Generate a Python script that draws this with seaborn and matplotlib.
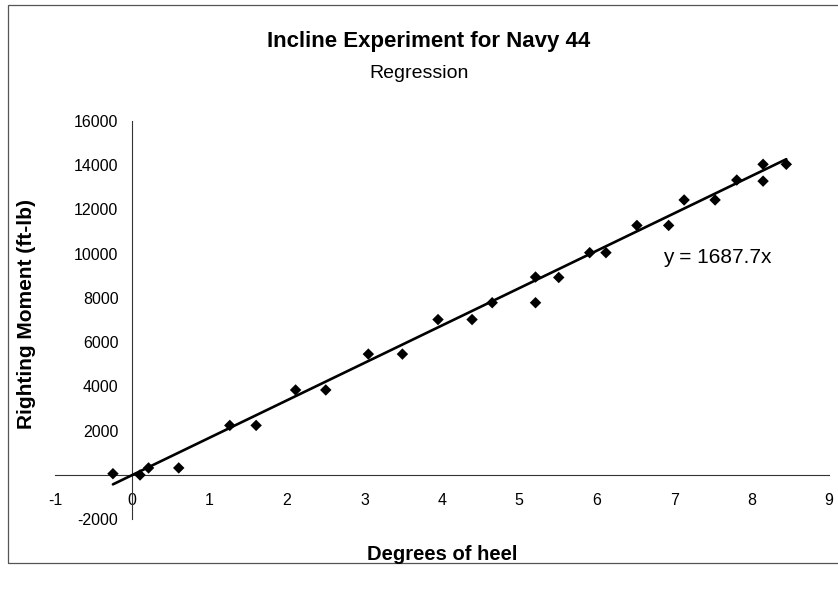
import numpy as np
import pandas as pd
import seaborn as sns
import matplotlib.pyplot as plt
from matplotlib.patches import Rectangle

sns.set_style("white")
plt.rcParams['font.family'] = ['Liberation Sans', 'DejaVu Sans']
plt.rcParams['axes.unicode_minus'] = False
plt.rcParams['text.color'] = 'black'
plt.rcParams['xtick.color'] = 'black'
plt.rcParams['ytick.color'] = 'black'

# 데이터
heel_deg = [-0.25, 0.10, 0.21, 0.60, 1.26, 1.60, 2.11, 2.50, 3.05, 3.49,
            3.95, 4.39, 4.65, 5.21, 5.21, 5.51, 5.91, 6.12, 6.52, 6.93,
            7.13, 7.53, 7.81, 8.15, 8.15, 8.45]
moment_ftlb = [60, 0, 320, 320, 2240, 2240, 3840, 3840, 5460, 5460,
               7020, 7020, 7780, 8940, 7780, 8920, 10040, 10040, 11270, 11270,
               12420, 12420, 13320, 14030, 13270, 14030]
slope = 1687.7

x_ticks = [-1, 0, 1, 2, 3, 4, 5, 6, 7, 8, 9]
y_ticks = [-2000, 0, 2000, 4000, 6000, 8000, 10000, 12000, 14000, 16000]
y_tick_labels = ["-2000", "", "2000", "4000", "6000", "8000", "10000", "12000", "14000", "16000"]

df = pd.DataFrame({"heel": heel_deg, "moment": moment_ftlb})

# 회귀선 (원점 통과)
fit_x = np.array([min(heel_deg), max(heel_deg)])
fit_df = pd.DataFrame({"heel": fit_x, "moment": slope * fit_x})

fig = plt.figure(figsize=(8.38, 5.91), dpi=100)
ax = fig.add_axes([0.0655, 0.1213, 0.9236, 0.6745])

sns.lineplot(data=fit_df, x="heel", y="moment", color="black", linewidth=1.9, ax=ax, zorder=3)
sns.scatterplot(data=df, x="heel", y="moment", marker="D", s=34, color="black",
                edgecolor="none", ax=ax, zorder=4)

ax.set_xlim(-1, 9)
ax.set_ylim(-2000, 16000)
ax.set_xticks(x_ticks)
ax.set_yticks(y_ticks)
ax.set_yticklabels(y_tick_labels)

# 엑셀 스타일 축: 0에서 교차
ax.spines['left'].set_position(('data', 0))
ax.spines['bottom'].set_position(('data', 0))
ax.spines['top'].set_visible(False)
ax.spines['right'].set_visible(False)
for s in ['left', 'bottom']:
    ax.spines[s].set_color('#333333')
    ax.spines[s].set_linewidth(0.8)

ax.tick_params(axis='x', direction='out', length=3, width=0.8, pad=10, labelsize=11.5, color='#333333')
ax.tick_params(axis='y', direction='out', length=3, width=0.8, pad=7, labelsize=11.5, color='#333333')
ax.set_xlabel("")
ax.set_ylabel("")

ax.text(6.86, 9830, "y = 1687.7x", fontsize=15, va='center', ha='left')

fig.text(429 / 838, 1 - 42 / 591, "Incline Experiment for Navy 44", fontsize=16,
         fontweight='bold', ha='center', va='center')
fig.text(419 / 838, 1 - 73 / 591, "Regression", fontsize=14, ha='center', va='center')
fig.text(442 / 838, 1 - 554 / 591, "Degrees of heel", fontsize=14.5, fontweight='bold',
         ha='center', va='center')
fig.text(27 / 838, 1 - 314 / 591, "Righting Moment (ft-lb)", fontsize=15, fontweight='bold',
         rotation=90, ha='center', va='center')

# 차트 테두리
fig.patches.append(Rectangle((8 / 838, 1 - 563 / 591), 1.0, (563 - 5) / 591,
                             transform=fig.transFigure, fill=False,
                             edgecolor='#555555', linewidth=0.9))

plt.savefig("out.png", dpi=100)
plt.close()
